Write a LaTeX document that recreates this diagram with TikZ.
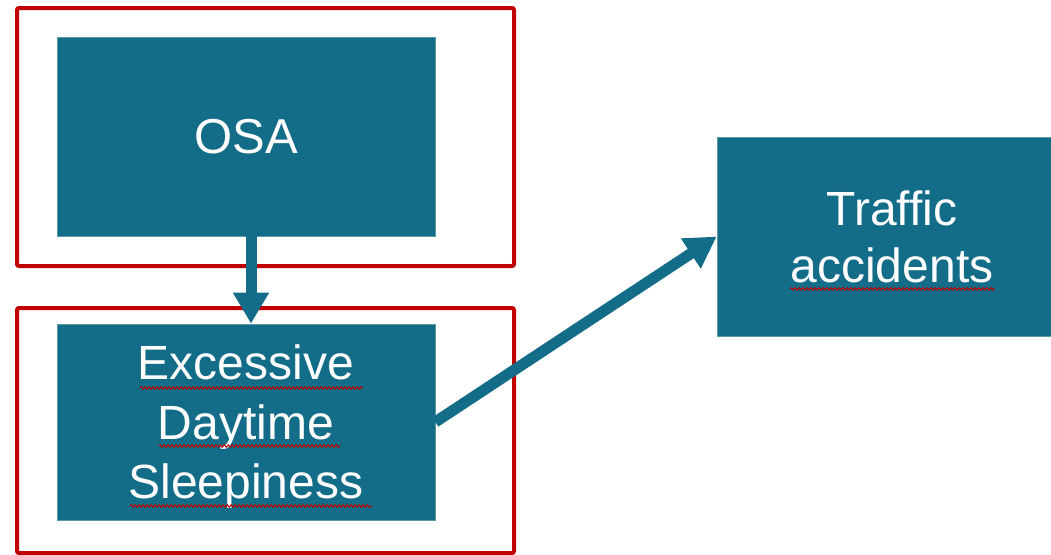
\documentclass[tikz,border=0pt]{standalone}
\usepackage{fontspec}
\setmainfont{Liberation Sans}
\usetikzlibrary{arrows.meta}
\usetikzlibrary{decorations.pathmorphing}
\definecolor{boxteal}{RGB}{19,108,136}
\definecolor{framered}{RGB}{192,0,0}
\tikzset{
	box/.style = {rectangle, fill=boxteal, draw=boxteal!70!white, line width=0.6pt,
		text=white, align=center, inner sep=0pt,
		minimum width=378pt, minimum height=199pt},% boite bleue
	frame_r/.style = {draw=framered, line width=4pt, rounded corners=2pt},% cadre rouge
	link/.style = {draw=boxteal, line width=11pt,
		-{Triangle[width=34pt,length=31pt]}},% fleche epaisse
	squig/.style = {draw=red!75!black, line width=1pt, decorate,
		decoration={snake, segment length=4pt, amplitude=1.3pt}}% soulignement
}

\begin{document}
\begin{tikzpicture}[x=1pt, y=-1pt]
	\useasboundingbox (0,0) rectangle (1051,554);
	\node[box, font=\fontsize{49}{59}\selectfont] (osa) at (246,136.5) {OSA};
	\node[box, minimum height=196pt, text depth=-2pt,
		font=\fontsize{48}{59.5}\selectfont] (eds) at (246,422)
		{Excessive\\Daytime\\Sleepiness};
	\node[box, minimum width=350pt, font=\fontsize{48}{57}\selectfont] (traffic) at (892,236.5)
		{Traffic\\accidents};
	\draw[frame_r] (17,8) rectangle (514,266);
	\draw[frame_r] (17,308) rectangle (514,553);
	\draw[link] ([xshift=5pt]osa.south) -- ([xshift=5pt]eds.north);
	\draw[link] (eds.east) -- (traffic.west);
	\draw[squig] ([shift={(-106,-34)}]eds.center) -- ++(223,0);
	\draw[squig] ([shift={(-87,24)}]eds.center) -- ++(181,0);
	\draw[squig] ([shift={(-116,84)}]eds.center) -- ++(242,0);
	\draw[squig] ([shift={(-102,52.5)}]traffic.center) -- ++(205,0);
\end{tikzpicture}
\end{document}
